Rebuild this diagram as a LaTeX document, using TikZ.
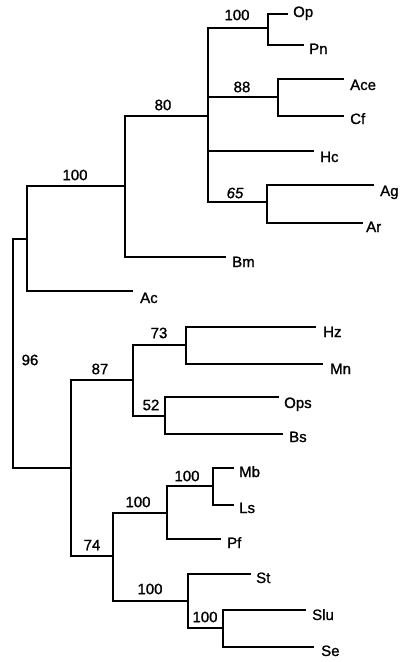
\documentclass[tikz,border=0pt]{standalone}
\usepackage{fontspec}
\setmainfont{Liberation Sans}
\newfontfamily\treefont[BoldFont={Liberation Sans}, BoldFeatures={FakeBold=1.2},
  BoldItalicFont={Liberation Sans Italic}, BoldItalicFeatures={FakeBold=1.2}]{Liberation Sans}
\begin{document}
\begin{tikzpicture}[x=1pt,y=-1pt,
  branch/.style={line width=2.6pt, line join=miter, line cap=rect},
  leaflabel/.style={anchor=base west, inner sep=0pt, font=\treefont\bfseries\fontsize{15}{15}\selectfont},
  support/.style={anchor=center, inner sep=0pt, font=\treefont\bfseries\fontsize{15}{15}\selectfont}]
\useasboundingbox (0,0) rectangle (404,662);
% internal nodes (vertical line x, entry y)
\coordinate (R) at (13,239);
\coordinate (A) at (27,239);
\coordinate (C) at (125,186);
\coordinate (D) at (208,116);
\coordinate (E) at (268,28);
\coordinate (F) at (278,97);
\coordinate (G) at (267,202);
\coordinate (B) at (71,468);
\coordinate (H) at (133,380);
\coordinate (J) at (186,345);
\coordinate (K) at (165,416);
\coordinate (I) at (113,556);
\coordinate (L) at (167,513);
\coordinate (N) at (213,486);
\coordinate (M) at (188,601);
\coordinate (O) at (223,628);
% leaf ends
\coordinate (op) at (287,14);
\coordinate (pn) at (303,45);
\coordinate (ace) at (343,79);
\coordinate (cf) at (343,116);
\coordinate (hc) at (313,151);
\coordinate (ag) at (373,185);
\coordinate (ar) at (362,223);
\coordinate (bm) at (225,257);
\coordinate (ac) at (132,291);
\coordinate (hz) at (315,327);
\coordinate (mn) at (322,364);
\coordinate (ops) at (278,397);
\coordinate (bs) at (282,434);
\coordinate (mb) at (233,468);
\coordinate (ls) at (233,505);
\coordinate (pf) at (220,539);
\coordinate (st) at (250,574);
\coordinate (slu) at (305,610);
\coordinate (se) at (313,647);
% branches
\draw[branch] (R) |- (A);
\draw[branch] (R) |- (B);
\draw[branch] (A) |- (C);
\draw[branch] (A) |- (ac);
\draw[branch] (C) |- (D);
\draw[branch] (C) |- (bm);
\draw[branch] (D) |- (E);
\draw[branch] (D) |- (F);
\draw[branch] (D) |- (hc);
\draw[branch] (D) |- (G);
\draw[branch] (E) |- (op);
\draw[branch] (E) |- (pn);
\draw[branch] (F) |- (ace);
\draw[branch] (F) |- (cf);
\draw[branch] (G) |- (ag);
\draw[branch] (G) |- (ar);
\draw[branch] (B) |- (H);
\draw[branch] (B) |- (I);
\draw[branch] (H) |- (J);
\draw[branch] (H) |- (K);
\draw[branch] (J) |- (hz);
\draw[branch] (J) |- (mn);
\draw[branch] (K) |- (ops);
\draw[branch] (K) |- (bs);
\draw[branch] (I) |- (L);
\draw[branch] (I) |- (M);
\draw[branch] (L) |- (N);
\draw[branch] (L) |- (pf);
\draw[branch] (N) |- (mb);
\draw[branch] (N) |- (ls);
\draw[branch] (M) |- (st);
\draw[branch] (M) |- (O);
\draw[branch] (O) |- (slu);
\draw[branch] (O) |- (se);
% leaf labels
\node[leaflabel] (tOp) at (293,17) {Op};
\node[leaflabel] (tPn) at (309,54) {Pn};
\node[leaflabel] (tAce) at (350,90) {Ace};
\node[leaflabel] (tCf) at (350,124) {Cf};
\node[leaflabel] (tHc) at (320,162) {Hc};
\node[leaflabel] (tAg) at (380,196) {Ag};
\node[leaflabel] (tAr) at (366,232) {Ar};
\node[leaflabel] (tBm) at (232,267) {Bm};
\node[leaflabel] (tAc) at (140,303) {Ac};
\node[leaflabel] (tHz) at (323,337) {Hz};
\node[leaflabel] (tMn) at (330,374) {Mn};
\node[leaflabel] (tOps) at (284,408) {Ops};
\node[leaflabel] (tBs) at (289,442) {Bs};
\node[leaflabel] (tMb) at (239,477) {Mb};
\node[leaflabel] (tLs) at (239,513) {Ls};
\node[leaflabel] (tPf) at (227,548) {Pf};
\node[leaflabel] (tSt) at (256,583) {St};
\node[leaflabel] (tSlu) at (312,620) {Slu};
\node[leaflabel] (tSe) at (321,656) {Se};
% support values
\node[support] (sE) at (237,15) {100};
\node[support] (sF) at (242,87) {88};
\node[support] (sD) at (163,105) {80};
\node[support] (sC) at (75,175) {100};
\node[support, font=\treefont\bfseries\itshape\fontsize{15}{15}\selectfont] (sG) at (235,193) {65};
\node[support] (sR) at (30,360) {96};
\node[support] (sJ) at (159,333) {73};
\node[support] (sH) at (100,369) {87};
\node[support] (sK) at (151,405) {52};
\node[support] (sN) at (187,476) {100};
\node[support] (sL) at (138,502) {100};
\node[support] (sI) at (92,545) {74};
\node[support] (sM) at (150,589) {100};
\node[support] (sO) at (205,617) {100};
\end{tikzpicture}
\end{document}
